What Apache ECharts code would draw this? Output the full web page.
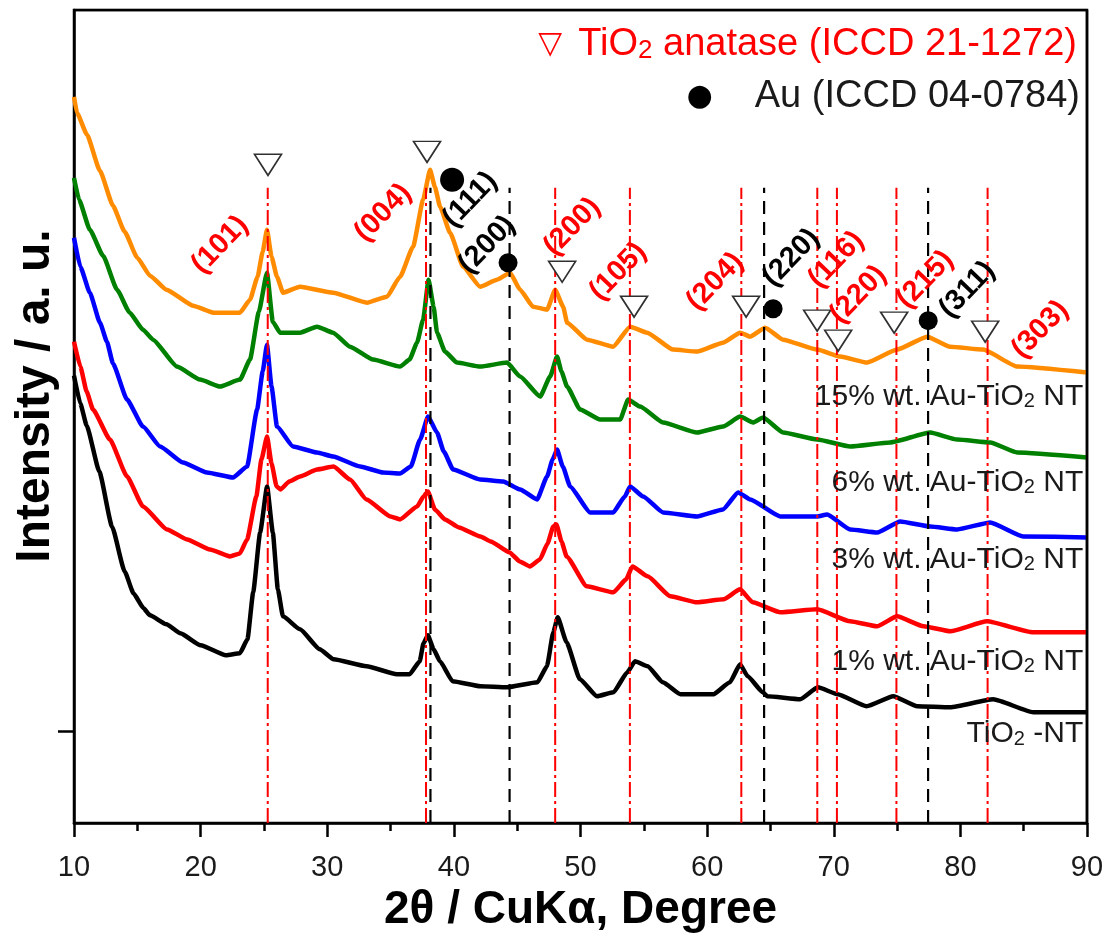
<!DOCTYPE html>
<html>
<head>
<meta charset="utf-8">
<script src="https://cdn.jsdelivr.net/npm/echarts@6/dist/echarts.min.js"></script>
<style>
  html, body { margin: 0; padding: 0; background: #fff; }
  #chart { width: 1108px; height: 938px; }
</style>
</head>
<body>
<div id="chart"></div>
<script>
// XRD patterns of TiO2 nanotubes with increasing Au loading (offset stacked, a.u.)
// Each pattern: [2θ in degrees, intensity above the TiO2-NT baseline tick]
const patternTiO2NT = [
  [10.0,356],[10.5,328],[11.0,306],[12.0,260],[13.0,205],[14.0,160],[14.7,138],[15.5,123],
  [16.0,116],[17.3,107],[18.4,98],[20.0,86],[22.0,76],[23.1,78],[23.7,92],
  [24.15,139],[24.7,199],[25.25,245],[25.7,199],[26.1,142],[26.5,115],[27.85,102],[29.4,82],
  [30.5,72],[33.1,65],[35.5,57],[36.5,57],[37.3,70],[37.6,88],[37.95,96],[38.4,82],[38.9,70],
  [39.9,50],[42.1,45],[44.2,44],[46.6,49],[47.35,65],[47.85,99],[48.2,114],[48.9,89],
  [49.95,52],[51.3,35],[52.6,39],[53.7,59],[54.3,70],[55.3,65],[56.5,49],[57.9,37],[60.5,37],
  [61.8,49],[62.6,67],[63.2,55],[64.4,39],[64.75,35],[67.35,32],[68.75,44],[70.3,37],
  [72.6,25],[74.7,35],[76.6,25],[79.2,24],[82.6,32],[85.75,19],[90.0,19]
];
const pattern1wt = [
  [10.0,390],[10.5,365],[11.0,340],[11.5,322],[12.84,292],[14.19,255],[15.45,225],[17.35,202],
  [18.93,192],[20.74,182],[22.32,175],[23.1,178],[23.67,192],[24.4,235],[24.8,272],[25.25,295],
  [25.6,268],[26.0,245],[26.3,242],[27.0,250],[27.85,255],[29.2,262],[30.5,265],[31.8,252],
  [33.1,232],[35.0,215],[35.75,212],[37.1,225],[37.6,235],[37.95,240],[38.5,222],[39.3,212],
  [40.4,204],[42.1,195],[42.9,190],[44.4,179],[45.2,170],[46.0,165],[46.8,172],[47.4,188],
  [47.85,205],[48.1,207],[48.5,190],[48.9,175],[50.5,145],[52.6,139],[53.6,152],[54.1,165],
  [55.3,155],[57.1,135],[59.2,129],[61.3,132],[62.6,142],[63.6,129],[65.8,119],[68.7,122],
  [71.3,110],[73.4,105],[75.0,115],[77.1,105],[79.2,100],[82.1,110],[85.75,99],[90.0,99]
];
const pattern3wt = [
  [10.0,494],[10.5,465],[11.25,439],[12.05,409],[12.6,390],[13.08,368],[14.19,332],[15.45,305],
  [16.8,285],[18.6,269],[20.5,259],[22.56,254],[23.67,265],[24.46,322],[24.9,360],[25.24,387],
  [25.6,345],[26.03,305],[27.3,285],[29.19,279],[30.46,275],[32.59,265],[34.41,259],[35.75,258],
  [36.6,265],[37.33,292],[37.96,315],[38.67,299],[39.2,280],[39.94,262],[42.07,252],[43.89,250],
  [45.23,242],[46.57,232],[47.36,255],[47.8,272],[48.15,282],[48.6,265],[49.18,245],[50.76,219],
  [52.58,219],[53.5,235],[53.92,245],[54.95,235],[56.52,219],[59.21,215],[61.26,222],[62.45,239],
  [63.4,232],[65.77,215],[68.69,215],[69.48,217],[71.3,202],[73.43,199],[75.25,210],[77.62,205],
  [79.75,202],[82.36,209],[84.96,195],[90.0,194]
];
const pattern6wt = [
  [10.0,554],[10.4,532],[11.25,502],[12.3,476],[13.4,442],[14.4,419],[15.45,402],[16.24,392],
  [18.14,365],[19.95,352],[21.53,345],[23.11,352],[23.9,372],[24.6,420],[25.24,459],[25.7,410],
  [26.27,399],[27.85,399],[29.19,405],[30.46,399],[31.8,385],[33.62,372],[35.75,365],[36.5,372],
  [37.09,389],[37.57,412],[38.0,452],[38.4,425],[38.67,399],[39.3,380],[40.25,369],[42.07,365],
  [44.2,369],[45.23,355],[46.81,335],[47.6,355],[48.15,375],[48.5,360],[48.94,345],[49.97,322],
  [51.55,312],[53.13,312],[53.76,332],[54.71,325],[56.52,309],[59.21,299],[61.26,305],[62.61,315],
  [63.63,309],[64.42,314],[66.0,299],[68.69,292],[71.3,285],[74.45,289],[77.62,299],[79.75,292],
  [82.36,289],[84.49,279],[90.0,274]
];
const pattern15wt = [
  [10.0,635],[10.24,619],[11.03,597],[12.05,561],[13.08,526],[14.0,500],[15.0,474],[16.0,456],
  [17.3,442],[19.4,426],[21.0,419],[23.1,419],[23.9,432],[24.5,455],[24.9,480],[25.24,502],
  [25.6,475],[26.03,455],[26.51,439],[27.85,445],[30.46,439],[33.14,429],[34.72,435],[35.75,455],
  [36.78,485],[37.57,532],[38.12,562],[38.5,545],[38.91,525],[39.7,499],[40.73,465],[42.07,445],
  [43.41,452],[44.44,459],[45.23,442],[46.26,425],[47.36,422],[48.0,442],[48.63,425],[48.94,409],
  [50.52,392],[52.58,385],[53.92,405],[55.26,399],[57.31,382],[59.21,380],[61.26,389],[62.61,399],
  [63.4,395],[64.58,404],[66.0,392],[68.69,382],[70.51,375],[72.64,369],[75.0,382],[77.38,395],
  [79.19,385],[81.8,382],[84.49,365],[90.0,359]
];

// Reference reflections (2θ, degree)
const anataseLines = [25.3, 37.8, 48.0, 53.9, 62.7, 68.7, 70.25, 74.95, 82.15];
const auLines = [38.15, 44.4, 64.5, 77.45];
const refLineTop = 544;

// Phase markers above the peaks
const anataseMarkX = [25.32, 37.88, 48.55, 54.23, 63.08, 68.69, 70.35, 74.77, 81.96];
const anataseMarkY = [567, 580, 460, 425, 425, 411, 391, 409, 400];
const auMarkX = [39.86, 44.28, 65.21, 77.46];
const auMarkY = [552, 469, 423, 411];

// Miller indices
const anataseHkl = ['(101)', '(004)', '(200)', '(105)', '(204)', '(116)', '(220)', '(215)', '(303)'];
const anataseHklX = [21.53, 34.41, 49.34, 52.97, 60.63, 70.19, 71.93, 77.22, 86.3];
const anataseHklY = [487, 519, 505, 460, 450, 472, 437, 452, 402];
const auHkl = ['(111)', '(200)', '(220)', '(311)'];
const auHklX = [41.28, 42.62, 66.64, 80.54];
const auHklY = [532, 487, 474, 442];

// Sample names beside each pattern
const sampleNames = ['15% wt. Au-TiO{sub|2} NT', '6% wt. Au-TiO{sub|2} NT', '3% wt. Au-TiO{sub|2} NT',
                     '1% wt. Au-TiO{sub|2} NT', 'TiO{sub|2} -NT'];
const sampleNameY = [335, 249, 172, 70, -3];
const sampleNameX = 89.7;

// The intensity axis starts at zero; the single tick marks the baseline the patterns are read against
const BASELINE = 92;
const X_MIN = 10, X_MAX = 90, Y_MIN = 0, Y_MAX = 814;
const FONT = "'Liberation Sans', Arial, sans-serif";
const chart = echarts.init(document.getElementById('chart'));

const lift = y => y + BASELINE;
const liftPoints = pts => pts.map(([x, y]) => [x, lift(y)]);

function patternSeries(name, data, color) {
  return {
    name, type: 'line', data: liftPoints(data), showSymbol: false, symbol: 'none',
    smooth: 0.15, smoothMonotone: 'x',
    lineStyle: { color, width: 4.5, join: 'round' }, z: 2, silent: true
  };
}

// Straight segment between two axis points (reference lines and frame edges)
function segmentSeries(p0, p1, color, dash, width) {
  return {
    type: 'line', data: [p0, p1], symbol: 'none',
    lineStyle: { color, width, type: dash }, z: 5, silent: true
  };
}

function zip(xs, ys, names) {
  return xs.map((x, i) => names ? { value: [x, lift(ys[i])], name: names[i] } : [x, lift(ys[i])]);
}

const subRich = (size, color) => ({ sub: { fontSize: Math.round(size * 0.68), verticalAlign: 'bottom', lineHeight: size, fontFamily: FONT, color } });

function labelSeries(data, color, size, extra) {
  return {
    type: 'scatter', data, symbolSize: 0, z: 11, silent: true,
    itemStyle: { opacity: 1 },
    label: Object.assign({ show: true, formatter: p => p.name, color, fontSize: size, fontFamily: FONT, opacity: 1 }, extra)
  };
}

const series = [
  patternSeries('15% wt.', pattern15wt, '#FF8C00'),
  patternSeries('6% wt.', pattern6wt, '#008000'),
  patternSeries('3% wt.', pattern3wt, '#0000FF'),
  patternSeries('1% wt.', pattern1wt, '#FF0000'),
  patternSeries('TiO2-NT', patternTiO2NT, '#000000'),
  ...anataseLines.map(x => segmentSeries([x, Y_MIN], [x, lift(refLineTop)], '#FF0000', [15, 4, 3, 4], 2)),
  ...auLines.map(x => segmentSeries([x, Y_MIN], [x, lift(refLineTop)], '#000000', [13, 8], 2.2)),
  // frame: top and right edges of the plot area
  segmentSeries([X_MIN, Y_MAX], [X_MAX, Y_MAX], '#000000', 'solid', 2.5),
  segmentSeries([X_MAX, Y_MIN], [X_MAX, Y_MAX], '#000000', 'solid', 2.5),
  {
    type: 'scatter', data: zip(anataseMarkX, anataseMarkY),
    symbol: 'triangle', symbolRotate: 180, symbolSize: [27, 21],
    itemStyle: { color: '#ffffff', borderColor: '#303030', borderWidth: 1.6, opacity: 1 }, z: 10, silent: true
  },
  {
    type: 'scatter', data: zip(auMarkX, auMarkY),
    symbol: 'circle', symbolSize: (v, p) => p.dataIndex === 0 ? 24 : 19,
    itemStyle: { color: '#000000', opacity: 1 }, z: 10, silent: true
  },
  labelSeries(zip(anataseHklX, anataseHklY, anataseHkl), '#FF0000', 29,
              { position: 'inside', rotate: 46, fontWeight: 'bold' }),
  labelSeries(zip(auHklX, auHklY, auHkl), '#000000', 29,
              { position: 'inside', rotate: 46, fontWeight: 'bold' }),
  labelSeries(zip(sampleNameY.map(() => sampleNameX), sampleNameY, sampleNames), '#1a1a1a', 30,
              { position: 'left', distance: 0, rich: subRich(30, '#1a1a1a') })
];

chart.setOption({
  animation: false,
  backgroundColor: '#ffffff',
  grid: { left: 74, right: 21, top: 10, bottom: 114, show: true, borderColor: '#000', borderWidth: 2.5,
          backgroundColor: 'transparent' },
  xAxis: {
    type: 'value', min: X_MIN, max: X_MAX, interval: 10,
    name: '2θ / CuKα, Degree', nameLocation: 'middle', nameGap: 62,
    nameTextStyle: { fontSize: 46, fontWeight: 'bold', color: '#000', fontFamily: FONT },
    axisLine: { lineStyle: { color: '#000', width: 2.5 } },
    axisTick: { show: true, length: 14, lineStyle: { color: '#000', width: 2.5 } },
    minorTick: { show: true, splitNumber: 2, length: 8, lineStyle: { color: '#000', width: 2.5 } },
    axisLabel: { fontSize: 29, color: '#1a1a1a', margin: 30, fontFamily: FONT },
    splitLine: { show: false }
  },
  yAxis: {
    type: 'value', min: Y_MIN, max: Y_MAX,
    axisLine: { show: true, lineStyle: { color: '#000', width: 2.5 } },
    axisTick: { show: true, customValues: [BASELINE], length: 16, lineStyle: { color: '#000', width: 2.5 } },
    axisLabel: { show: false },
    splitLine: { show: false }
  },
  graphic: [
    {
      type: 'text', x: 36, y: 396, rotation: Math.PI / 2,
      style: { text: 'Intensity / a. u.', fontSize: 48, fontWeight: 'bold', fill: '#000', fontFamily: FONT,
               align: 'center', verticalAlign: 'middle' }
    },
    {
      type: 'text', x: 1077, y: 45,
      style: {
        text: '{tri|▽}TiO{sub|2} anatase (ICCD 21-1272)',
        fontSize: 38, fill: '#FF0000', fontFamily: FONT, align: 'right', verticalAlign: 'middle',
        rich: Object.assign({ tri: { fontFamily: 'DejaVu Sans', fontSize: 31, fill: '#FF0000', padding: [0, 16, 0, 0] } }, subRich(38, '#FF0000'))
      }
    },
    {
      type: 'text', x: 1080, y: 97,
      style: {
        text: '{dot|●}Au (ICCD 04-0784)',
        fontSize: 38, fill: '#1a1a1a', fontFamily: FONT, align: 'right', verticalAlign: 'middle',
        rich: { dot: { fontFamily: 'DejaVu Sans', fontSize: 30, fill: '#000', padding: [0, 42, 0, 0] } }
      }
    }
  ],
  series
});
</script>
</body>
</html>
